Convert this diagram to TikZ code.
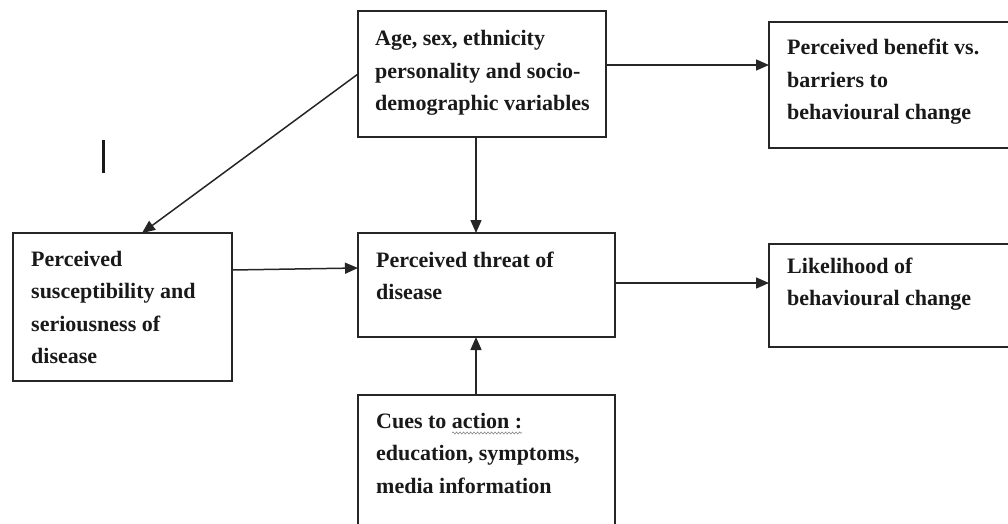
\documentclass[tikz,border=0pt]{standalone}
\usepackage{fontspec}
\setmainfont{Liberation Serif}
\usetikzlibrary{arrows.meta,decorations.pathmorphing}
% left-aligned stack of lines; the node's base is the first line's baseline
\newcommand\boxlines[1]{\vtop{\baselineskip=32.5pt\lineskiplimit=-100pt\halign{##\hfil\cr#1\crcr}}}

\begin{document}
\begin{tikzpicture}[x=1pt,y=-1pt,
  box/.style={draw=black!85,line width=1.6pt,inner sep=0pt,outer sep=0pt},
  txt/.style={anchor=base west,inner sep=0pt,font=\fontsize{22}{32.5}\selectfont\bfseries,text=black!90},
  arr/.style={line width=1.5pt,draw=black!85,-{Triangle[length=13pt,width=11pt]}}]
\useasboundingbox (0,0) rectangle (1008,524);

% boxes
\node[box,minimum width=248pt,minimum height=126pt] (top) at (482,74) {};
\node[box,minimum width=243pt,minimum height=126pt] (benefit) at (890.5,85) {};
\node[box,minimum width=219pt,minimum height=148pt] (suscept) at (122.5,307) {};
\node[box,minimum width=257pt,minimum height=104pt] (threat) at (486.5,285) {};
\node[box,minimum width=243pt,minimum height=103pt] (likely) at (890.5,295.5) {};
\node[box,minimum width=257pt,minimum height=140pt] (cues) at (486.5,465) {};

% texts
\node[txt] (ttop) at (375,46) {\boxlines{Age, sex, ethnicity\cr personality and socio-\cr demographic variables}};
\node[txt] (tbenefit) at (787,55) {\boxlines{Perceived benefit vs.\cr barriers to\cr behavioural change}};
\node[txt] (tsuscept) at (31,266) {\boxlines{Perceived\cr susceptibility and\cr seriousness of\cr disease}};
\node[txt] (tthreat) at (376,267) {\boxlines{Perceived threat of\cr disease}};
\node[txt] (tlikely) at (787,273) {\boxlines{Likelihood of\cr behavioural change}};
\node[txt] (tcues) at (376,428) {\boxlines{Cues to action :\cr education, symptoms,\cr media information}};

% spell-check squiggle under "action :"
\draw[decorate,decoration={snake,amplitude=1pt,segment length=3.5pt},draw=black!50,line width=0.6pt] (452,433) -- (522,433);

% stray vertical mark
\draw[line width=3pt,black!90] (103,140) -- (103,173);

% connectors
\draw[arr] ([yshift=9pt]top.east) -- ([yshift=9pt]top.east -| benefit.west);
\draw[arr] (top.west) -- ([xshift=19.5pt]suscept.north);
\draw[arr] ([xshift=-6pt]top.south) -- ([xshift=-6pt]top.south |- threat.north);
\draw[arr] ([yshift=37pt]suscept.east) -- ([yshift=17pt]threat.west);
\draw[arr] ([yshift=2pt]threat.east) -- ([yshift=2pt]threat.east -| likely.west);
\draw[arr] ([xshift=-6pt]top.south |- cues.north) -- ([xshift=-6pt]top.south |- threat.south);
\end{tikzpicture}
\end{document}
